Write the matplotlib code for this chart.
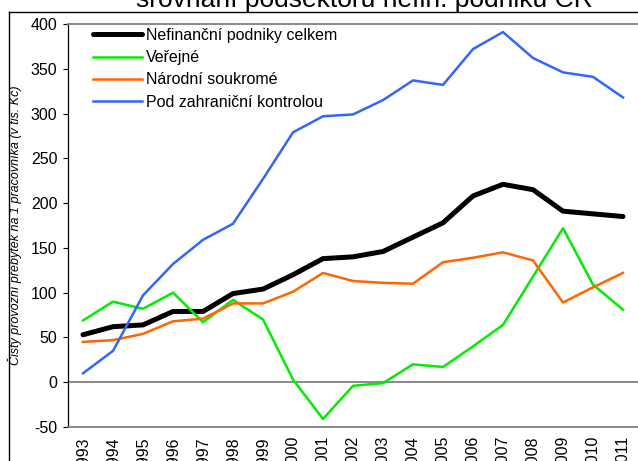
import matplotlib
matplotlib.use("Agg")
import matplotlib.pyplot as plt
from matplotlib.lines import Line2D
import numpy as np

plt.rcParams['font.family'] = ['Liberation Sans', 'DejaVu Sans']
plt.rcParams['axes.unicode_minus'] = False

# data (tis. Kc per worker)
years = [str(y) for y in range(1993, 2012)]
celkem = [53, 62, 64, 79, 79, 99, 104, 120, 138, 140, 146, 162, 178, 208, 221, 215, 191, 188, 185]
verejne = [69, 90, 82, 100, 67, 92, 70, 3, -41, -4, -1, 20, 17, 40, 64, 118, 172, 109, 81]
narodni = [45, 47, 54, 68, 71, 88, 88, 101, 122, 113, 111, 110, 134, 139, 145, 136, 89, 106, 122]
zahranicni = [10, 35, 97, 132, 159, 177, 227, 279, 297, 299, 315, 337, 332, 372, 391, 362, 346, 341, 318]

labels = ["Nefinanční podniky celkem", "Veřejné", "Národní soukromé",
          "Pod zahraniční kontrolou"]
title = "srovnání podsektorů nefin. podniků ČR"
ylabel = "Čistý provozní přebytek na 1 pracovníka (v tis. Kč)"

W, H = 638, 461
fig = plt.figure(figsize=(W / 100, H / 100), dpi=100)
ax = fig.add_axes([68 / W, 1 - 427 / H, 570 / W, 403 / H])

x = np.arange(len(years))
ax.plot(x, celkem, color='black', lw=3.6, label=labels[0], solid_capstyle='round')
ax.plot(x, verejne, color='#00ee00', lw=1.8, label=labels[1])
ax.plot(x, narodni, color='#ff6600', lw=1.8, label=labels[2])
ax.plot(x, zahranicni, color='#3366ff', lw=1.8, label=labels[3])

ax.axhline(0, color='#808080', lw=1.3, zorder=0)

ax.set_xlim(-0.5, len(years) - 0.5)
ax.set_ylim(-50, 400)
ax.set_yticks(range(-50, 401, 50))
ax.set_xticks(x)
ax.set_xticklabels(years, rotation=90, fontsize=11.5)
ax.tick_params(axis='x', length=0, pad=6.5)
ax.tick_params(axis='y', direction='out', length=3.6, width=0.8, pad=4, labelsize=11.5)

for s in ['top', 'bottom']:
    ax.spines[s].set_color('#808080')
    ax.spines[s].set_linewidth(1.3)
ax.spines['right'].set_visible(False)
ax.spines['left'].set_color('black')
ax.spines['left'].set_linewidth(0.9)

ax.set_ylabel(ylabel, fontsize=9, style='italic')
ax.yaxis.set_label_coords(-(68 - 22) / 570, 0.5)

ax.legend(loc='upper left', bbox_to_anchor=(25 / 570, 0.99), frameon=False,
          fontsize=11.5, borderpad=0, borderaxespad=0, handlelength=3.05,
          handletextpad=0.25, labelspacing=0.45)

# outer chart border (cropped screenshot)
fig.add_artist(Line2D([9 / W, 9 / W], [0, 1 - 12 / H], color='black', lw=1.0,
                      transform=fig.transFigure))
fig.add_artist(Line2D([9 / W, 1], [1 - 12 / H, 1 - 12 / H], color='black', lw=1.0,
                      transform=fig.transFigure))

fig.text(364 / W, 1 - 7 / H, title, ha='center', va='baseline', fontsize=19)

fig.savefig("out.png", dpi=100)
